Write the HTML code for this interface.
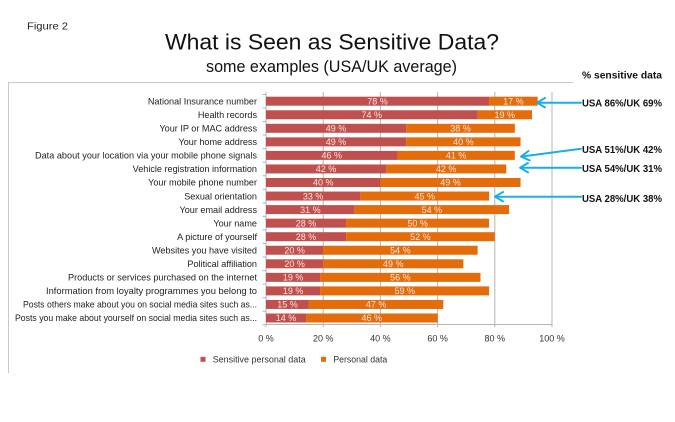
<!DOCTYPE html>
<html>
<head>
<meta charset="utf-8">
<style>
  html,body{margin:0;padding:0;background:#fff;}
  svg{display:block;}
  .lbl{font-family:"Liberation Sans",sans-serif;font-size:9.1px;fill:#222;}
  .val{font-family:"Liberation Sans",sans-serif;font-size:9px;fill:#f9e4df;}
  .tick{font-family:"Liberation Sans",sans-serif;font-size:9px;fill:#333;}
  .ann{font-family:"Liberation Sans",sans-serif;font-size:10px;font-weight:bold;fill:#111;}
</style>
</head>
<body>
<svg width="675" height="422" viewBox="0 0 675 422" xmlns="http://www.w3.org/2000/svg">
  <rect width="675" height="422" fill="#fff"/>
  <!-- headings -->
  <text x="27" y="29.5" font-family="Liberation Sans, sans-serif" font-size="10.5" fill="#222" textLength="41" lengthAdjust="spacingAndGlyphs">Figure 2</text>
  <text x="165" y="49.3" font-family="Liberation Sans, sans-serif" font-size="22.5" fill="#111" textLength="334" lengthAdjust="spacingAndGlyphs">What is Seen as Sensitive Data?</text>
  <text x="206" y="72" font-family="Liberation Sans, sans-serif" font-size="16.5" fill="#111" textLength="251" lengthAdjust="spacingAndGlyphs">some examples (USA/UK average)</text>
  <text x="582" y="78.5" class="ann" font-size="9.5" textLength="80" lengthAdjust="spacingAndGlyphs">% sensitive data</text>

  <!-- chart frame -->
  <line x1="8" y1="82.5" x2="573" y2="82.5" stroke="#c8c8c8" stroke-width="1"/>
  <line x1="8.5" y1="82.5" x2="8.5" y2="373" stroke="#c8c8c8" stroke-width="1"/>

  <!-- gridlines -->
  <g stroke="#b4b4b4" stroke-width="1">
    <line x1="323.2" y1="92" x2="323.2" y2="327"/>
    <line x1="380.4" y1="92" x2="380.4" y2="327"/>
    <line x1="437.6" y1="92" x2="437.6" y2="327"/>
    <line x1="494.8" y1="92" x2="494.8" y2="327"/>
    <line x1="552" y1="92" x2="552" y2="327"/>
    <line x1="266" y1="324.5" x2="552" y2="324.5"/>
    <line x1="266" y1="92" x2="266" y2="327"/>
  </g>
  <!-- category ticks -->
  <g stroke="#b4b4b4" stroke-width="1" id="cticks"></g>

  <g id="bars"></g>

  <!-- x tick labels -->
  <g class="tick" text-anchor="middle">
    <text x="266" y="341.5">0 %</text>
    <text x="323.2" y="341.5">20 %</text>
    <text x="380.4" y="341.5">40 %</text>
    <text x="437.6" y="341.5">60 %</text>
    <text x="494.8" y="341.5">80 %</text>
    <text x="552" y="341.5">100 %</text>
  </g>

  <!-- legend -->
  <rect x="200.5" y="356.8" width="5" height="5" fill="#c0504d"/>
  <text x="212.7" y="362.5" class="tick" font-size="9.5" textLength="93" lengthAdjust="spacingAndGlyphs" fill="#333">Sensitive personal data</text>
  <rect x="321" y="356.8" width="5" height="5" fill="#e46c0a"/>
  <text x="333.3" y="362.5" class="tick" font-size="9.5" textLength="54" lengthAdjust="spacingAndGlyphs" fill="#333">Personal data</text>

  <!-- annotations -->
  <g class="ann">
    <text x="582" y="106.3" textLength="80" lengthAdjust="spacingAndGlyphs">USA 86%/UK 69%</text>
    <text x="582" y="152.8" textLength="80" lengthAdjust="spacingAndGlyphs">USA 51%/UK 42%</text>
    <text x="582" y="172.2" textLength="80" lengthAdjust="spacingAndGlyphs">USA 54%/UK 31%</text>
    <text x="582" y="201.8" textLength="80" lengthAdjust="spacingAndGlyphs">USA 28%/UK 38%</text>
  </g>
  <g stroke="#1aaee6" stroke-width="2" fill="none" stroke-linecap="round" stroke-linejoin="round">
    <line x1="581" y1="102.7" x2="538" y2="102.7"/>
    <polyline points="545,98 537,102.7 545,107.4"/>
    <line x1="581" y1="148.7" x2="522" y2="156.5"/>
    <polyline points="528.5,151 521,156.6 529.8,160.4"/>
    <line x1="581" y1="167.7" x2="521" y2="167.7"/>
    <polyline points="528,163 520,167.7 528,172.4"/>
    <line x1="581" y1="196.7" x2="496" y2="196.7"/>
    <polyline points="503,192 495,196.7 503,201.4"/>
  </g>
</svg>
<script>
(function(){
  var data=[
    ["National Insurance number",78,17],
    ["Health records",74,19],
    ["Your IP or MAC address",49,38],
    ["Your home address",49,40],
    ["Data about your location via your mobile phone signals",46,41,222],
    ["Vehicle registration information",42,42],
    ["Your mobile phone number",40,49],
    ["Sexual orientation",33,45],
    ["Your email address",31,54],
    ["Your name",28,50],
    ["A picture of yourself",28,52],
    ["Websites you have visited",20,54],
    ["Political affiliation",20,49],
    ["Products or services purchased on the internet",19,56,189],
    ["Information from loyalty programmes you belong to",19,59,211],
    ["Posts others make about you on social media sites such as...",15,47,234],
    ["Posts you make about yourself on social media sites such as...",14,46,242]
  ];
  var NS="http://www.w3.org/2000/svg";
  var g=document.getElementById("bars"), t=document.getElementById("cticks");
  var x0=266, k=2.86, c0=101.2, p=13.55, h=9;
  function el(n,a,txt){var e=document.createElementNS(NS,n);for(var q in a)e.setAttribute(q,a[q]);if(txt!=null)e.textContent=txt;return e;}
  for(var i=0;i<=data.length;i++){
    var yb=c0-p/2+i*p;
    t.appendChild(el("line",{x1:262.5,y1:yb,x2:266,y2:yb}));
  }
  data.forEach(function(d,i){
    var c=c0+i*p, y=c-h/2;
    var w1=d[1]*k, w2=d[2]*k;
    g.appendChild(el("rect",{x:x0,y:y,width:w1,height:h,fill:"#c0504d"}));
    g.appendChild(el("rect",{x:x0+w1,y:y,width:w2,height:h,fill:"#e46c0a"}));
    var a={x:257,y:c+3.2,"class":"lbl","text-anchor":"end"};
    if(d[3]){a.textLength=d[3];a.lengthAdjust="spacingAndGlyphs";}
    g.appendChild(el("text",a,d[0]));
    g.appendChild(el("text",{x:x0+w1/2,y:c+3.2,"class":"val","text-anchor":"middle"},d[1]+" %"));
    g.appendChild(el("text",{x:x0+w1+w2/2,y:c+3.2,"class":"val","text-anchor":"middle"},d[2]+" %"));
  });
})();
</script>
</body>
</html>
